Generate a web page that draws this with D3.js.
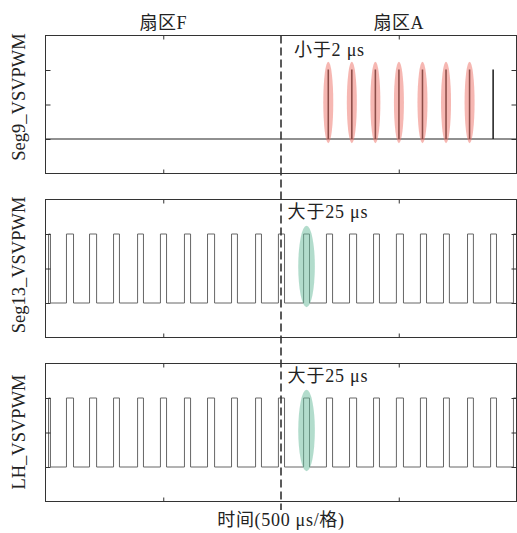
<!DOCTYPE html>
<html>
<head>
<meta charset="utf-8">
<script src="https://cdn.jsdelivr.net/npm/d3@7"></script>
<style>
  html, body { margin: 0; padding: 0; background: #fff; }
  svg { display: block; }
  text { font-family: "Liberation Serif", "Noto Sans CJK SC", serif; fill: #222; }
</style>
</head>
<body>
<svg id="chart" width="517" height="533"></svg>
<script>
// Time axis (microseconds, 500 µs per division) and logic levels
const timeDomain = [0, 2000];
const timeTicks = [500, 1500];
const levelDomain = [-0.5, 1.5];
const levelTicks = [0, 0.5, 1];
const sectorNames = ["扇区F", "扇区A"];
const sectorSwitchTime = 1000;

const channelNames = ["Seg9_VSVPWM", "Seg13_VSVPWM", "LH_VSVPWM"];

// Seg9: narrow glitch pulses (< 2 µs) after the sector change
const seg9SpikeTimes = [1200, 1300, 1400, 1500, 1600, 1700, 1800, 1900];
const seg9SpikeWidth = 1.5;
const seg9MarkedSpikes = [1200, 1300, 1400, 1500, 1600, 1700, 1800];

// Seg13 / LH: regular PWM pulses, rise and fall times (µs)
const pulseRises = [13, 89, 187, 289, 391, 488, 590, 688, 790, 892, 989, 1096, 1193, 1291, 1393, 1490, 1592, 1690, 1792, 1890, 1987];
const pulseFalls = [21, 119, 217, 314, 416, 514, 616, 718, 815, 917, 1015, 1121, 1219, 1321, 1418, 1520, 1618, 1715, 1817, 1915, 2000];
const markedPulse = 11; // index of the highlighted pulse

const notes = ["小于2 μs", "大于25 μs", "大于25 μs"];

const svg = d3.select("#chart");
const left = 45.5, right = 516.5;
const panelTops = [35.5, 199.5, 363.5];
const panelH = 138;

const x = d3.scaleLinear().domain(timeDomain).range([left, right]);

function stepPoints(rises, falls, start, end) {
  const pts = [];
  if (rises[0] > start) pts.push([start, 0]);
  rises.forEach((r, i) => {
    pts.push([r, 0], [r, 1], [falls[i], 1]);
    if (falls[i] < end) pts.push([falls[i], 0]);
  });
  if (falls[falls.length - 1] < end) pts.push([end, 0]);
  return pts;
}

const seg9Pts = stepPoints(seg9SpikeTimes, seg9SpikeTimes.map(t => t + seg9SpikeWidth), timeDomain[0], timeDomain[1]);
const pwmPts = stepPoints(pulseRises, pulseFalls, pulseRises[0], timeDomain[1]);
const seriesPts = [seg9Pts, pwmPts, pwmPts];

panelTops.forEach((top, i) => {
  const y = d3.scaleLinear().domain(levelDomain).range([top + panelH, top]);
  const g = svg.append("g");

  // signal trace
  const line = d3.line().x(d => x(d[0])).y(d => y(d[1]));
  g.append("path")
    .attr("d", line(seriesPts[i]))
    .attr("fill", "none")
    .attr("stroke", i === 0 ? "#222" : "#666")
    .attr("stroke-width", i === 0 ? 1.2 : 1);

  // highlight ellipses
  if (i === 0) {
    g.selectAll("ellipse").data(seg9MarkedSpikes).join("ellipse")
      .attr("cx", d => x(d + seg9SpikeWidth / 2))
      .attr("cy", y(0.53))
      .attr("rx", 5)
      .attr("ry", y(0) - y(0.59))
      .attr("fill", "#ee756b")
      .attr("opacity", 0.52);
  } else {
    const c = (pulseRises[markedPulse] + pulseFalls[markedPulse]) / 2;
    g.append("ellipse")
      .attr("cx", x(c))
      .attr("cy", y(0.53))
      .attr("rx", 8.3)
      .attr("ry", y(0) - y(0.59))
      .attr("fill", "#6bbb9d")
      .attr("opacity", 0.52);
  }

  // inward ticks on all four sides
  const tickStyle = sel => {
    sel.select(".domain").remove();
    sel.selectAll("text").remove();
    sel.selectAll("line").attr("stroke", "#333");
  };
  g.append("g").attr("transform", `translate(${left},0)`)
    .call(d3.axisLeft(y).tickValues(levelTicks).tickSize(-5)).call(tickStyle);
  g.append("g").attr("transform", `translate(${right},0)`)
    .call(d3.axisRight(y).tickValues(levelTicks).tickSize(-5)).call(tickStyle);
  g.append("g").attr("transform", `translate(0,${top})`)
    .call(d3.axisTop(x).tickValues(timeTicks).tickSize(-4)).call(tickStyle);
  g.append("g").attr("transform", `translate(0,${top + panelH})`)
    .call(d3.axisBottom(x).tickValues(timeTicks).tickSize(-4)).call(tickStyle);

  // frame
  g.append("rect")
    .attr("x", left).attr("y", top)
    .attr("width", right - left).attr("height", panelH)
    .attr("fill", "none").attr("stroke", "#333").attr("stroke-width", 1);

  // annotation
  g.append("text")
    .attr("x", x(i === 0 ? 1055 : 1028))
    .attr("y", y(i === 0 ? 1.2 : 1.23))
    .attr("font-size", 18)
    .attr("letter-spacing", 0.8)
    .text(notes[i]);

  // channel label
  const labelCenters = [97, 265, 432];
  g.append("text")
    .attr("transform", `translate(25,${labelCenters[i]}) rotate(-90)`)
    .attr("text-anchor", "middle")
    .attr("font-size", 18.5)
    .text(channelNames[i]);
});

// sector titles above the division ticks
svg.selectAll("text.sector").data(sectorNames).join("text")
  .attr("class", "sector")
  .attr("x", (d, i) => x(timeTicks[i]))
  .attr("y", 29)
  .attr("text-anchor", "middle")
  .attr("font-size", 18)
  .attr("letter-spacing", 0.5)
  .text(d => d);

// sector change marker
svg.append("line")
  .attr("x1", x(sectorSwitchTime)).attr("x2", x(sectorSwitchTime))
  .attr("y1", panelTops[0]).attr("y2", 510)
  .attr("stroke", "#333").attr("stroke-width", 1.6)
  .attr("stroke-dasharray", "8,4");

// time axis label
svg.append("text")
  .attr("x", (left + right) / 2)
  .attr("y", 526)
  .attr("text-anchor", "middle")
  .attr("font-size", 18)
  .attr("letter-spacing", 0.7)
  .text("时间(500 μs/格)");
</script>
</body>
</html>
